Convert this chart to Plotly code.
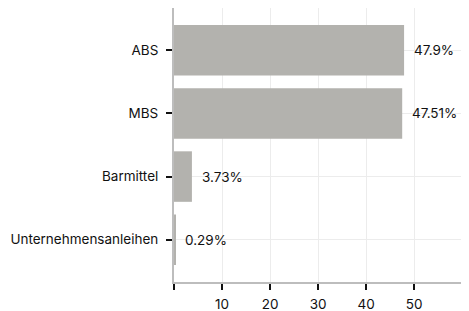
import plotly.graph_objects as go

categories = ["ABS", "MBS", "Barmittel", "Unternehmensanleihen"]
values = [47.9, 47.51, 3.73, 0.29]
labels = ["47.9%", "47.51%", "3.73%", "0.29%"]
x_ticks = [0, 10, 20, 30, 40, 50, 60]
x_ticktext = ["", "10", "20", "30", "40", "50", ""]

FONT = "Inter, Roboto, sans-serif"

fig = go.Figure(go.Bar(
    x=values, y=categories, orientation="h",
    marker=dict(color="#b3b2ae", line=dict(width=0)),
    hoverinfo="x+y",
))

for v, c, t in zip(values, categories, labels):
    fig.add_annotation(x=v, y=c, text=t, showarrow=False, xanchor="left",
                       xshift=8, font=dict(family=FONT, size=13.5, color="#111111"))

# page body has an 8px default margin; figure sized so the page is 469x311
fig.update_layout(
    width=461, height=303,
    margin=dict(l=166, r=2, t=0, b=29),
    plot_bgcolor="white", paper_bgcolor="white",
    font=dict(family=FONT, size=13.5, color="#111111"),
    bargap=0.2, showlegend=False,
)
fig.update_xaxes(
    range=[0, 61], tickvals=x_ticks, ticktext=x_ticktext,
    showgrid=True, gridcolor="#ececec", gridwidth=1,
    showline=True, linecolor="#bdbdbd", linewidth=2,
    ticks="outside", ticklen=6, tickcolor="#111111", tickwidth=2,
    zeroline=False, automargin=False, ticklabelstandoff=3,
)
fig.update_yaxes(
    categoryorder="array", categoryarray=categories,
    autorange=False, range=[3.67, -0.67],
    showgrid=True, gridcolor="#ececec", gridwidth=1,
    showline=True, linecolor="#bdbdbd", linewidth=2,
    ticks="outside", ticklen=6, tickcolor="#111111", tickwidth=2,
    ticklabelstandoff=5, automargin=False,
)

fig.write_html("out.html")
